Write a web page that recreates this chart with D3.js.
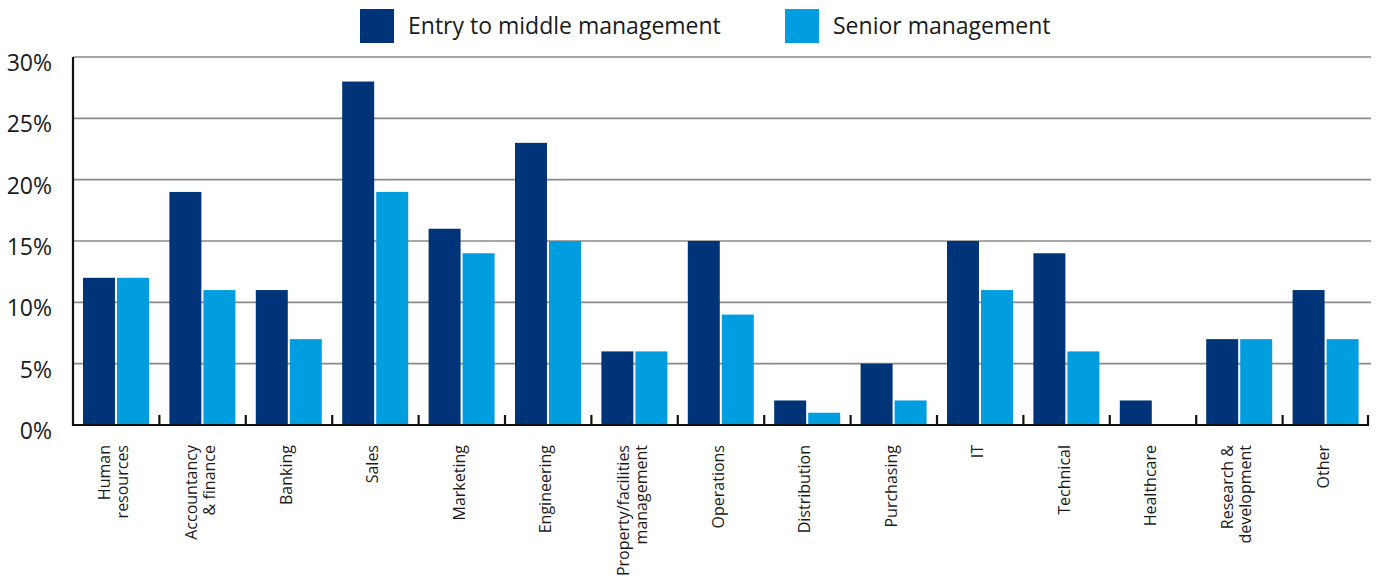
<!DOCTYPE html>
<html>
<head>
<meta charset="utf-8">
<script src="https://cdn.jsdelivr.net/npm/d3@7"></script>
<style>
  html, body { margin: 0; padding: 0; background: #fff; }
  svg { display: block; font-family: "Open Sans", sans-serif; }
</style>
</head>
<body>
<svg id="chart" width="1376" height="586"></svg>
<script>
// Share of respondents by job function, two management levels
const categories = [
  ["Human", "resources"],
  ["Accountancy", "& finance"],
  ["Banking"],
  ["Sales"],
  ["Marketing"],
  ["Engineering"],
  ["Property/facilities", "management"],
  ["Operations"],
  ["Distribution"],
  ["Purchasing"],
  ["IT"],
  ["Technical"],
  ["Healthcare"],
  ["Research &", "development"],
  ["Other"]
];
const seriesNames = ["Entry to middle management", "Senior management"];
const entryValues  = [12, 19, 11, 28, 16, 23, 6, 15, 2, 5, 15, 14, 2, 7, 11];
const seniorValues = [12, 11, 7, 19, 14, 15, 6, 9, 1, 2, 11, 6, 0, 7, 7];
const yTicks = [0, 5, 10, 15, 20, 25, 30];
const colors = ["#003478", "#009ddf"];

const svg = d3.select("#chart");
const plotLeft = 73, plotRight = 1369, plotTop = 57, plotBottom = 425;

const keys = categories.map((c, i) => i);
const x0 = d3.scaleBand().domain(keys).range([plotLeft, plotRight]).padding(0);
const x1 = d3.scaleBand().domain([0, 1]).range([10, 76]).paddingInner(0.06);
const y = d3.scaleLinear().domain([0, 30]).range([plotBottom, plotTop]);
const color = d3.scaleOrdinal().domain([0, 1]).range(colors);

// gridlines
svg.append("g")
  .selectAll("line")
  .data(yTicks.filter(t => t > 0))
  .join("line")
  .attr("x1", plotLeft).attr("x2", 1371)
  .attr("y1", d => y(d)).attr("y2", d => y(d))
  .attr("stroke", "#8a8a8a").attr("stroke-width", 1.6);

// y tick labels
svg.append("g")
  .selectAll("text")
  .data(yTicks)
  .join("text")
  .attr("x", 52)
  .attr("y", d => y(d) + 14)
  .attr("text-anchor", "end")
  .attr("font-size", 23)
  .attr("fill", "#1a1a1a")
  .text(d => d + "%");

// bars
const rows = keys.map(i => [entryValues[i], seniorValues[i]]);
svg.append("g")
  .selectAll("g")
  .data(rows)
  .join("g")
  .attr("transform", (d, i) => `translate(${x0(i)},0)`)
  .selectAll("rect")
  .data(d => d.map((v, s) => ({ v, s })))
  .join("rect")
  .attr("x", d => x1(d.s))
  .attr("width", x1.bandwidth())
  .attr("y", d => y(d.v))
  .attr("height", d => y(0) - y(d.v))
  .attr("fill", d => color(d.s));

// axes
svg.append("line")
  .attr("x1", plotLeft).attr("x2", plotLeft)
  .attr("y1", plotTop).attr("y2", plotBottom + 1)
  .attr("stroke", "#111").attr("stroke-width", 2.2);
svg.append("line")
  .attr("x1", plotLeft - 1).attr("x2", plotRight)
  .attr("y1", plotBottom).attr("y2", plotBottom)
  .attr("stroke", "#111").attr("stroke-width", 2.2);

// category boundary ticks
svg.append("g")
  .selectAll("line")
  .data(keys.slice(1).map(i => x0(i)).concat([plotRight - 1]))
  .join("line")
  .attr("x1", d => d).attr("x2", d => d)
  .attr("y1", plotBottom - 10).attr("y2", plotBottom)
  .attr("stroke", "#111").attr("stroke-width", 2.2);

// category labels, rotated
const labels = svg.append("g")
  .selectAll("text")
  .data(categories)
  .join("text")
  .attr("transform", (d, i) => `translate(${x0(i) + x0.bandwidth() / 2 - 3},445) rotate(-90)`)
  .attr("text-anchor", "end")
  .attr("font-size", 16)
  .attr("fill", "#1a1a1a");
labels.each(function(lines) {
  const t = d3.select(this);
  const n = lines.length;
  lines.forEach((line, k) => {
    t.append("tspan")
      .attr("x", 0)
      .attr("y", (k - (n - 1) / 2) * 18 + 6)
      .text(line);
  });
});

// legend
const legend = svg.append("g");
const legendX = [360, 785];
seriesNames.forEach((name, s) => {
  legend.append("rect")
    .attr("x", legendX[s]).attr("y", 9)
    .attr("width", 34).attr("height", 34)
    .attr("fill", color(s));
  legend.append("text")
    .attr("x", legendX[s] + 48).attr("y", 34)
    .attr("font-size", 23)
    .attr("fill", "#1a1a1a")
    .text(name);
});
</script>
</body>
</html>
